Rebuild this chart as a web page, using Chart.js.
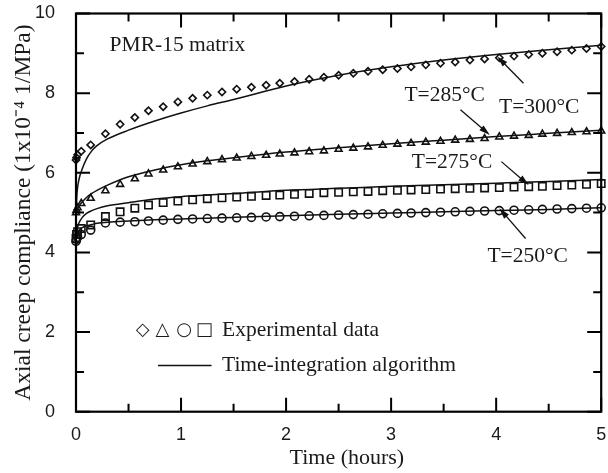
<!DOCTYPE html>
<html><head><meta charset="utf-8">
<script src="https://cdn.jsdelivr.net/npm/chart.js@4.4.1/dist/chart.umd.min.js"></script>
<style>html,body{margin:0;padding:0;background:#fff}#wrap{width:608px;height:473px}</style>
</head><body><div id="wrap"><canvas id="c" width="608" height="473"></canvas></div>
<script>
// ---- data (time in hours, compliance in 1e-4 1/MPa)
const expTimes = [0, 0.005, 0.015, 0.05, 0.14, 0.28, 0.42, 0.56, 0.69, 0.83, 0.97, 1.11, 1.25, 1.39, 1.53, 1.67, 1.81, 1.94, 2.08, 2.22, 2.36, 2.50, 2.64, 2.78, 2.92, 3.06, 3.19, 3.33, 3.47, 3.61, 3.75, 3.89, 4.03, 4.17, 4.31, 4.44, 4.58, 4.72, 4.86, 5.00];
const exp300 = [6.32, 6.38, 6.45, 6.54, 6.70, 6.98, 7.22, 7.39, 7.56, 7.66, 7.78, 7.87, 7.95, 8.03, 8.10, 8.15, 8.20, 8.25, 8.29, 8.35, 8.40, 8.45, 8.50, 8.55, 8.59, 8.62, 8.66, 8.71, 8.75, 8.78, 8.83, 8.86, 8.89, 8.93, 8.97, 9.00, 9.04, 9.08, 9.12, 9.17];
const exp285 = [5.00, 5.06, 5.12, 5.23, 5.36, 5.55, 5.71, 5.85, 5.97, 6.07, 6.15, 6.22, 6.28, 6.33, 6.37, 6.41, 6.44, 6.47, 6.50, 6.53, 6.55, 6.59, 6.62, 6.65, 6.69, 6.72, 6.74, 6.77, 6.79, 6.82, 6.84, 6.86, 6.90, 6.92, 6.94, 6.97, 6.99, 7.01, 7.03, 7.05];
const exp275 = [4.35, 4.45, 4.52, 4.60, 4.69, 4.90, 5.02, 5.11, 5.19, 5.25, 5.29, 5.32, 5.35, 5.37, 5.39, 5.41, 5.43, 5.44, 5.46, 5.48, 5.50, 5.51, 5.52, 5.53, 5.55, 5.56, 5.57, 5.58, 5.59, 5.60, 5.61, 5.62, 5.63, 5.64, 5.65, 5.66, 5.68, 5.69, 5.71, 5.73];
const exp250 = [4.28, 4.33, 4.38, 4.45, 4.56, 4.74, 4.76, 4.77, 4.79, 4.81, 4.83, 4.84, 4.85, 4.86, 4.87, 4.88, 4.89, 4.90, 4.91, 4.92, 4.93, 4.94, 4.95, 4.96, 4.97, 4.98, 4.99, 5.00, 5.01, 5.02, 5.03, 5.04, 5.05, 5.06, 5.07, 5.08, 5.09, 5.10, 5.11, 5.12];

const fitTimes = [0, 0.01, 0.03, 0.06, 0.1, 0.15, 0.2, 0.3, 0.5, 0.75, 1, 1.25, 1.5, 2, 2.5, 3, 3.5, 4, 4.5, 5];
const fit300 = [5.00, 5.50, 5.85, 6.10, 6.35, 6.55, 6.68, 6.85, 7.07, 7.30, 7.50, 7.68, 7.84, 8.18, 8.45, 8.66, 8.83, 8.97, 9.09, 9.20];
const fit285 = [5.00, 5.08, 5.17, 5.27, 5.38, 5.48, 5.56, 5.69, 5.90, 6.07, 6.20, 6.30, 6.38, 6.52, 6.63, 6.73, 6.82, 6.91, 6.99, 7.07];
const fit275 = [4.40, 4.60, 4.75, 4.88, 4.98, 5.05, 5.10, 5.17, 5.25, 5.34, 5.40, 5.44, 5.48, 5.56, 5.61, 5.66, 5.70, 5.74, 5.78, 5.83];
const fit250 = [4.30, 4.45, 4.55, 4.62, 4.67, 4.70, 4.73, 4.76, 4.79, 4.82, 4.84, 4.86, 4.88, 4.92, 4.96, 4.99, 5.02, 5.05, 5.08, 5.12];

const xMajorTicks = [0, 1, 2, 3, 4, 5];
const xMinorTicks = [0.5, 1.5, 2.5, 3.5, 4.5];
const yMajorTicks = [0, 2, 4, 6, 8, 10];
const yMinorTicks = [1, 3, 5, 7, 9];

const xTitle = '   Time (hours)';
const yTitle = 'Axial creep compliance (1x10\u207B\u2074 1/MPa)';
const panelLabel = 'PMR-15 matrix';
const legendSymbols = ['\u25C7', '\u25B3', '\u25CB', '\u25A1'];
const legendTexts = ['Experimental data', 'Time-integration algorithm'];
const curveLabels = ['T=300\u00B0C', 'T=285\u00B0C', 'T=275\u00B0C', 'T=250\u00B0C'];

// annotation placement (data units): label centre, arrow tail, arrow head
const labelPos = [
  {x: 4.41, y: 7.65, tx: 4.26, ty: 8.25, hx: 4.01, hy: 8.92},
  {x: 3.51, y: 7.95, tx: 3.66, ty: 7.58, hx: 3.94, hy: 6.95},
  {x: 3.58, y: 6.27, tx: 4.05, ty: 6.28, hx: 4.31, hy: 5.69},
  {x: 4.30, y: 3.89, tx: 4.28, ty: 4.35, hx: 4.03, hy: 5.11}
];

const SERIF = '"Liberation Serif", "Times New Roman", serif';
const SANS = '"Liberation Sans", Arial, sans-serif';
const INK = '#1a1a1a';

const pts = (xs, ys) => xs.map((t, i) => ({x: t, y: ys[i]}));

function expSet(vals, style, r) {
  return {type: 'scatter', data: pts(expTimes, vals), showLine: false,
    pointStyle: style, pointRadius: r, pointBorderWidth: 1.6,
    pointBorderColor: '#111', pointBackgroundColor: 'rgba(0,0,0,0)', clip: false, order: 1};
}
function fitSet(vals) {
  return {type: 'scatter', data: pts(fitTimes, vals), showLine: true, pointRadius: 0,
    borderColor: '#111', borderWidth: 1.5, cubicInterpolationMode: 'monotone', clip: false, order: 2};
}

const decor = {
  id: 'decor',
  afterDatasetsDraw(chart) {
    const {ctx, chartArea: a, scales: {x, y}} = chart;
    ctx.save();
    ctx.strokeStyle = '#000';
    ctx.lineWidth = 2.2;
    ctx.strokeRect(a.left, a.top, a.right - a.left, a.bottom - a.top);
    ctx.lineWidth = 2;
    ctx.beginPath();
    const ty = (vals, len) => vals.forEach(v => {
      const p = y.getPixelForValue(v);
      ctx.moveTo(a.left, p); ctx.lineTo(a.left + len, p);
      ctx.moveTo(a.right, p); ctx.lineTo(a.right - len, p);
    });
    const tx = (vals, len) => vals.forEach(v => {
      const p = x.getPixelForValue(v);
      ctx.moveTo(p, a.bottom); ctx.lineTo(p, a.bottom - len);
      ctx.moveTo(p, a.top); ctx.lineTo(p, a.top + len);
    });
    ty(yMajorTicks, 14); ty(yMinorTicks, 8);
    tx(xMajorTicks, 14); tx(xMinorTicks, 8);
    ctx.stroke();

    // curve labels + arrows
    ctx.fillStyle = INK;
    ctx.font = '21.5px ' + SERIF;
    ctx.textAlign = 'center';
    ctx.textBaseline = 'middle';
    labelPos.forEach((p, i) => {
      ctx.fillText(curveLabels[i], x.getPixelForValue(p.x), y.getPixelForValue(p.y));
      const x0 = x.getPixelForValue(p.tx), y0 = y.getPixelForValue(p.ty);
      const x1 = x.getPixelForValue(p.hx), y1 = y.getPixelForValue(p.hy);
      const ang = Math.atan2(y1 - y0, x1 - x0);
      const L = 11, W = 3.2;
      ctx.strokeStyle = '#111'; ctx.lineWidth = 1.3;
      ctx.beginPath(); ctx.moveTo(x0, y0);
      ctx.lineTo(x1 - L * 0.8 * Math.cos(ang), y1 - L * 0.8 * Math.sin(ang)); ctx.stroke();
      ctx.fillStyle = '#111';
      ctx.beginPath();
      ctx.moveTo(x1, y1);
      ctx.lineTo(x1 - L * Math.cos(ang) + W * Math.sin(ang), y1 - L * Math.sin(ang) - W * Math.cos(ang));
      ctx.lineTo(x1 - L * Math.cos(ang) - W * Math.sin(ang), y1 - L * Math.sin(ang) + W * Math.cos(ang));
      ctx.closePath(); ctx.fill();
      ctx.fillStyle = INK;
    });

    // panel label
    ctx.textAlign = 'left';
    ctx.fillText(panelLabel, x.getPixelForValue(0.32), y.getPixelForValue(9.21));

    // legend
    const symX = [0.635, 0.823, 1.03, 1.22];
    ctx.font = '18px "DejaVu Sans", sans-serif';
    ctx.textAlign = 'center';
    legendSymbols.forEach((s, i) => ctx.fillText(s, x.getPixelForValue(symX[i]), y.getPixelForValue(2.05)));
    ctx.font = '21.5px ' + SERIF;
    ctx.textAlign = 'left';
    ctx.fillText(legendTexts[0], x.getPixelForValue(1.39), y.getPixelForValue(2.05));
    ctx.fillText(legendTexts[1], x.getPixelForValue(1.39), y.getPixelForValue(1.16));
    ctx.strokeStyle = '#111'; ctx.lineWidth = 1.3;
    ctx.beginPath();
    ctx.moveTo(x.getPixelForValue(0.78), y.getPixelForValue(1.16));
    ctx.lineTo(x.getPixelForValue(1.29), y.getPixelForValue(1.16));
    ctx.stroke();
    ctx.restore();
  }
};

new Chart(document.getElementById('c'), {
  type: 'scatter',
  data: {datasets: [
    expSet(exp300, 'rectRot', 3.6),
    expSet(exp285, 'triangle', 4),
    expSet(exp275, 'rect', 5.2),
    expSet(exp250, 'circle', 4)
  ].concat([fitSet(fit300), fitSet(fit285), fitSet(fit275), fitSet(fit250)])},
  options: {
    responsive: false, animation: false, devicePixelRatio: 1,
    layout: {padding: {left: 0, right: 3, top: 13.5, bottom: 0}},
    plugins: {legend: {display: false}, tooltip: {enabled: false}},
    scales: {
      x: {type: 'linear', min: 0, max: 5,
        grid: {display: false}, border: {display: false},
        ticks: {stepSize: 1, padding: 5, color: INK, font: {family: SANS, size: 18}, maxRotation: 0},
        title: {display: true, text: xTitle, color: INK, font: {family: SERIF, size: 22}, padding: {top: 0, bottom: 2}},
        afterFit(s) { s.height = 61.3; s.paddingLeft = 0; s.paddingRight = 0; }
      },
      y: {type: 'linear', min: 0, max: 10,
        grid: {display: false}, border: {display: false},
        ticks: {stepSize: 2, padding: 13, color: INK, font: {family: SANS, size: 18}},
        title: {display: true, text: yTitle, color: INK, font: {family: SERIF, size: 23.5}, padding: {top: 10, bottom: 0}},
        afterFit(s) { s.width = 76; s.paddingTop = 0; s.paddingBottom = 0; }
      }
    }
  },
  plugins: [decor]
});
</script></body></html>
